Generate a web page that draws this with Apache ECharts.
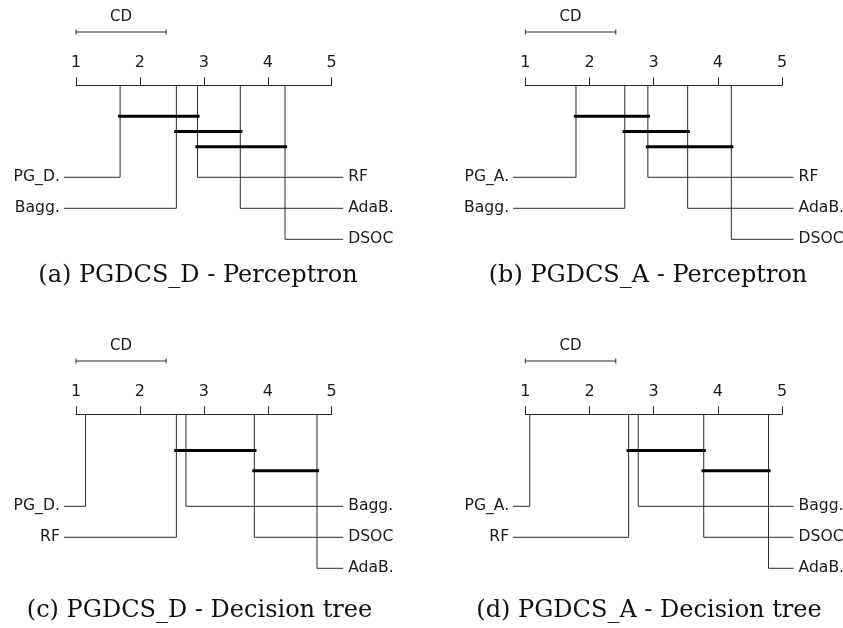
<!DOCTYPE html>
<html>
<head>
<meta charset="utf-8">
<script src="https://cdn.jsdelivr.net/npm/echarts@6/dist/echarts.min.js"></script>
<style>
  html, body { margin: 0; padding: 0; background: #ffffff; }
  #chart { width: 843px; height: 628px; }
</style>
</head>
<body>
<div id="chart"></div>
<script>
// Average ranks (lower is better) for each comparison, with the groups of
// methods that are not significantly different (critical-difference cliques).
const rankTicks = [1, 2, 3, 4, 5];

const methodsA = ['PG_D.', 'Bagg.', 'RF', 'AdaB.', 'DSOC'];
const ranksA   = [1.69, 2.57, 2.90, 3.57, 4.27];
const cliquesA = [[0, 2], [1, 3], [2, 4]];
const captionA = '(a) PGDCS_D - Perceptron';

const methodsB = ['PG_A.', 'Bagg.', 'RF', 'AdaB.', 'DSOC'];
const ranksB   = [1.79, 2.55, 2.91, 3.53, 4.21];
const cliquesB = [[0, 2], [1, 3], [2, 4]];
const captionB = '(b) PGDCS_A - Perceptron';

const methodsC = ['PG_D.', 'RF', 'Bagg.', 'DSOC', 'AdaB.'];
const ranksC   = [1.15, 2.57, 2.72, 3.79, 4.77];
const cliquesC = [[1, 3], [3, 4]];
const captionC = '(c) PGDCS_D - Decision tree';

const methodsD = ['PG_A.', 'RF', 'Bagg.', 'DSOC', 'AdaB.'];
const ranksD   = [1.07, 2.61, 2.76, 3.78, 4.79];
const cliquesD = [[1, 3], [3, 4]];
const captionD = '(d) PGDCS_A - Decision tree';

const criticalDifference = 1.41;

// ---- layout (pixels / rank-space extents) ----
const panelBoxes = [
  { left: 76,    top: 85.3,  width: 255.7, capX: 198,   capY: 276 },
  { left: 525.3, top: 85.3,  width: 256.7, capX: 648,   capY: 276 },
  { left: 76,    top: 414.3, width: 255.7, capX: 199.5, capY: 610.5 },
  { left: 525.3, top: 414.3, width: 256.7, capX: 649,   capY: 610.5 }
];
const yRange = 160;          // vertical offsets below the rank axis, in px
const rowTop = 92, rowStep = 31;
const cliqueBand = [15.8, 76.8];
const cdBarY = -53.3, cdTextY = -68.3, cdCap = 2.5;
const leftEnd = 0.81, rightEnd = 5.18;
const cliqueOverhang = 0.033;
const nLeft = 2;

const thinColor = '#2b2b2b';
const textColor = '#1a1a1a';
const labelFont = '15.6px "DejaVu Sans"';
const cdFont = '15px "DejaVu Sans"';

const panels = [
  { methods: methodsA, ranks: ranksA, cliques: cliquesA, caption: captionA },
  { methods: methodsB, ranks: ranksB, cliques: cliquesB, caption: captionB },
  { methods: methodsC, ranks: ranksC, cliques: cliquesC, caption: captionC },
  { methods: methodsD, ranks: ranksD, cliques: cliquesD, caption: captionD }
];

const grid = [], xAxis = [], yAxis = [], series = [], graphic = [];

function baseCustom(p, data, renderItem, z) {
  return {
    type: 'custom', coordinateSystem: 'cartesian2d',
    xAxisIndex: p, yAxisIndex: p, data: data,
    encode: { x: 0, y: 1 },
    clip: false, silent: true, animation: false, z: z || 2,
    renderItem: renderItem
  };
}

panels.forEach(function (panel, p) {
  const box = panelBoxes[p];
  grid.push({ left: box.left, top: box.top, width: box.width, height: yRange });

  xAxis.push({
    gridIndex: p, type: 'value', position: 'top',
    min: rankTicks[0], max: rankTicks[rankTicks.length - 1], interval: 1,
    axisLine: { show: true, onZero: false, lineStyle: { color: thinColor, width: 1 } },
    axisTick: { show: true, length: 8, lineStyle: { color: thinColor, width: 1 } },
    axisLabel: {
      show: true, fontSize: 16, fontFamily: 'DejaVu Sans', color: textColor,
      margin: 14, lineHeight: 16,
      formatter: function (v) { return rankTicks.indexOf(v) >= 0 ? String(v) : ''; }
    },
    splitLine: { show: false }
  });
  yAxis.push({ gridIndex: p, type: 'value', min: 0, max: yRange, inverse: true, show: false });

  // Method connectors: rank on the axis -> down to the label row -> out to the side
  const connectorData = panel.ranks.map(function (r, i) {
    const onLeft = i < nLeft;
    const row = onLeft ? i : i - nLeft;
    return [r, rowTop + row * rowStep, onLeft ? leftEnd : rightEnd, onLeft ? 0 : 1];
  });
  series.push(baseCustom(p, connectorData, function (params, api) {
    const r = api.value(0), y = api.value(1), endX = api.value(2), side = api.value(3);
    const a = api.coord([r, 0]), b = api.coord([r, y]), c = api.coord([endX, y]);
    return {
      type: 'group',
      children: [
        {
          type: 'polyline',
          shape: { points: [a, b, c] },
          style: { stroke: thinColor, lineWidth: 1, fill: null }
        },
        {
          type: 'text',
          x: side === 0 ? c[0] - 4 : c[0] + 5,
          y: c[1],
          style: {
            text: panel.methods[params.dataIndex],
            font: labelFont, fill: textColor,
            align: side === 0 ? 'right' : 'left', verticalAlign: 'middle'
          }
        }
      ]
    };
  }));

  // Cliques: thick bars joining groups without significant difference
  const nC = panel.cliques.length;
  const cliqueData = panel.cliques.map(function (c, k) {
    const y = cliqueBand[0] + (k + 1) * (cliqueBand[1] - cliqueBand[0]) / (nC + 1);
    return [panel.ranks[c[0]] - cliqueOverhang, y, panel.ranks[c[1]] + cliqueOverhang];
  });
  series.push(baseCustom(p, cliqueData, function (params, api) {
    const a = api.coord([api.value(0), api.value(1)]);
    const b = api.coord([api.value(2), api.value(1)]);
    return {
      type: 'line',
      shape: { x1: a[0], y1: a[1], x2: b[0], y2: b[1] },
      style: { stroke: '#000000', lineWidth: 3, lineCap: 'butt' }
    };
  }, 5));

  // Critical difference scale bar
  const cdStart = rankTicks[0];
  const cdData = [[cdStart, cdBarY, cdStart + criticalDifference]];
  series.push(baseCustom(p, cdData, function (params, api) {
    const x0 = api.value(0), y = api.value(1), x1 = api.value(2);
    const a = api.coord([x0, y]), b = api.coord([x1, y]);
    const t = api.coord([(x0 + x1) / 2, cdTextY]);
    const capUp = api.coord([x0, y - cdCap])[1], capDown = api.coord([x0, y + cdCap])[1];
    const st = { stroke: thinColor, lineWidth: 1 };
    return {
      type: 'group',
      children: [
        { type: 'line', shape: { x1: a[0], y1: a[1], x2: b[0], y2: b[1] }, style: st },
        { type: 'line', shape: { x1: a[0], y1: capUp, x2: a[0], y2: capDown }, style: st },
        { type: 'line', shape: { x1: b[0], y1: capUp, x2: b[0], y2: capDown }, style: st },
        {
          type: 'text', x: t[0], y: t[1],
          style: { text: 'CD', font: cdFont, fill: textColor, align: 'center', verticalAlign: 'middle' }
        }
      ]
    };
  }));

  graphic.push({
    type: 'text', x: box.capX, y: box.capY, silent: true,
    style: {
      text: panel.caption,
      font: '24px "DejaVu Serif"',
      fill: '#111111',
      align: 'center', verticalAlign: 'middle',
      textAlign: 'center', textVerticalAlign: 'middle'
    }
  });
});

const chart = echarts.init(document.getElementById('chart'), null, { renderer: 'canvas' });
chart.setOption({
  backgroundColor: '#ffffff',
  animation: false,
  grid: grid,
  xAxis: xAxis,
  yAxis: yAxis,
  series: series,
  graphic: graphic
});
</script>
</body>
</html>
